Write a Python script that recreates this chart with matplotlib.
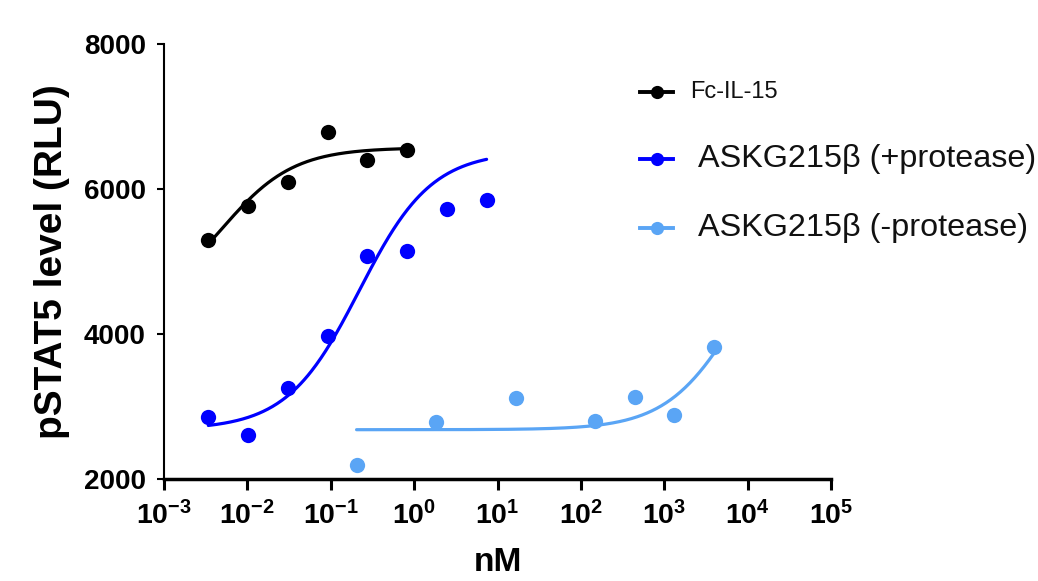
import numpy as np
import matplotlib
matplotlib.use("Agg")
import matplotlib.pyplot as plt
from matplotlib.lines import Line2D
from matplotlib.ticker import FixedLocator, FuncFormatter, NullLocator

plt.rcParams['font.family'] = ['Liberation Sans', 'DejaVu Sans']
plt.rcParams['mathtext.fontset'] = 'custom'
plt.rcParams['mathtext.rm'] = 'Liberation Sans:bold'
plt.rcParams['mathtext.bf'] = 'Liberation Sans:bold'
plt.rcParams['mathtext.it'] = 'Liberation Sans:bold'
plt.rcParams['mathtext.default'] = 'bf'

# ---- data ----
series_names = ["Fc-IL-15", "ASKG215β (+protease)", "ASKG215β (-protease)"]
series_colors = ["#000000", "#0000FF", "#5AA5F5"]

fc_x = [0.0034, 0.0102, 0.0305, 0.0915, 0.274, 0.82]
fc_y = [5290, 5770, 6100, 6780, 6400, 6540]

plus_x = [0.0034, 0.0102, 0.0305, 0.0915, 0.274, 0.82, 2.47, 7.4]
plus_y = [2850, 2610, 3250, 3970, 5080, 5150, 5730, 5850]

minus_x = [0.204, 1.82, 16.5, 147, 444, 1315, 3935]
minus_y = [2195, 2790, 3120, 2800, 3135, 2885, 3815]

# fitted 4PL curve parameters (bottom, top, EC50, hill)
fc_fit = (4300, 6570, 0.0048, 1.0)
plus_fit = (2680, 6520, 0.22, 1.0)
minus_fit = (2680, 5870, 8000, 1.0)

xtick_exps = [-3, -2, -1, 0, 1, 2, 3, 4, 5]
yticks = [2000, 4000, 6000, 8000]


def four_pl(x, p):
    b, t, ec, h = p
    x = np.asarray(x, dtype=float)
    return b + (t - b) / (1 + (ec / x) ** h)


fig = plt.figure(figsize=(10.38, 5.81), dpi=100)
ax = fig.add_axes([164 / 1038, 1 - 479 / 581, (831 - 164) / 1038, (479 - 44) / 581])

groups = [(fc_x, fc_y, fc_fit), (plus_x, plus_y, plus_fit), (minus_x, minus_y, minus_fit)]
for (xs, ys, fit), col in zip(groups, series_colors):
    xx = np.logspace(np.log10(min(xs)), np.log10(max(xs)), 300)
    ax.plot(xx, four_pl(xx, fit), color=col, lw=2.3, solid_capstyle='round', zorder=2)
    ax.plot(xs, ys, 'o', color=col, ms=11, mec='none', zorder=3, clip_on=False)

ax.set_xscale('log')
ax.set_xlim(10.0 ** xtick_exps[0], 10.0 ** xtick_exps[-1])
ax.set_ylim(yticks[0], yticks[-1])
ax.xaxis.set_major_locator(FixedLocator([10.0 ** e for e in xtick_exps]))
ax.xaxis.set_minor_locator(NullLocator())
ax.xaxis.set_major_formatter(FuncFormatter(lambda v, p: r'$10^{%d}$' % int(round(np.log10(v)))))
ax.set_yticks(yticks)
ax.set_yticklabels([str(v) for v in yticks])

for s in ['top', 'right']:
    ax.spines[s].set_visible(False)
ax.spines['left'].set_linewidth(1.5)
ax.spines['bottom'].set_linewidth(2.5)
ax.tick_params(axis='x', direction='out', length=8, width=2.2, pad=8, labelsize=20.5)
ax.tick_params(axis='y', direction='out', length=5, width=1.5, pad=8, labelsize=20)
for lab in ax.get_yticklabels():
    lab.set_fontweight('bold')

ax.set_xlabel('nM', fontsize=24, fontweight='bold', labelpad=12)
ax.set_ylabel('pSTAT5 level (RLU)', fontsize=28, fontweight='bold', labelpad=10)

# legend drawn manually
leg_y = [1 - 92 / 581, 1 - 159 / 581, 1 - 228 / 581]
leg_text_x = [690 / 1038, 698 / 1038, 698 / 1038]
leg_sizes = [17, 23.3, 23.3]
for name, col, yy, tx, fs in zip(series_names, series_colors, leg_y, leg_text_x, leg_sizes):
    fig.add_artist(Line2D([640 / 1038, 673 / 1038], [yy, yy], color=col, lw=2.8,
                          transform=fig.transFigure))
    fig.add_artist(Line2D([656.5 / 1038], [yy], marker='o', ms=9.5, color=col, mec='none',
                          transform=fig.transFigure))
    fig.text(tx, yy, name, fontsize=fs, va='center', ha='left', color='#111111')

fig.savefig('out.png', dpi=100)
